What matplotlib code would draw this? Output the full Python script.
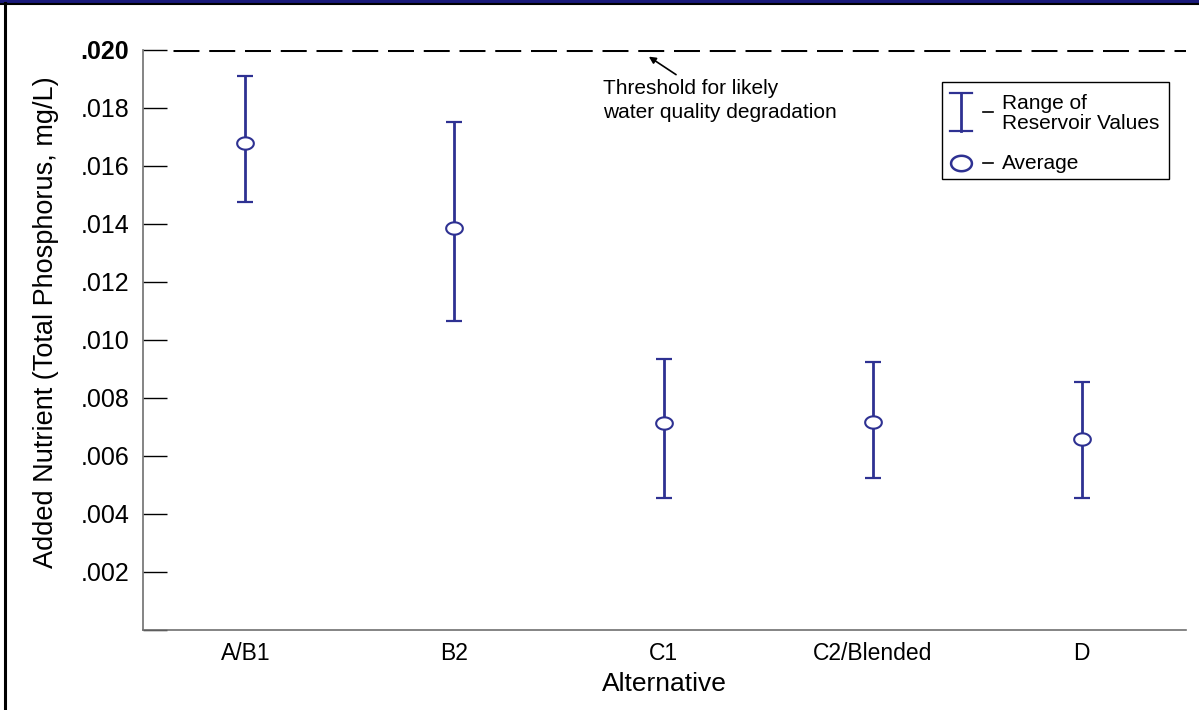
import numpy as np
import matplotlib.pyplot as plt
from matplotlib.path import Path
from matplotlib.lines import Line2D
from matplotlib.patches import Rectangle

alternatives = ['A/B1', 'B2', 'C1', 'C2/Blended', 'D']
range_high = [0.0191, 0.0175, 0.00935, 0.00924, 0.00855]
average = [0.0168, 0.01386, 0.00714, 0.00717, 0.0066]
range_low = [0.01476, 0.01066, 0.00455, 0.00524, 0.00455]
threshold = 0.020
y_ticks = [0.0, 0.002, 0.004, 0.006, 0.008, 0.010, 0.012, 0.014, 0.016, 0.018, 0.020]

navy = '#2e3192'
plt.rcParams['font.family'] = ['Liberation Sans', 'DejaVu Sans']

# slightly flattened circle marker like the original
t = np.linspace(0, 2 * np.pi, 60)
ellipse = Path(np.column_stack([np.cos(t), 0.74 * np.sin(t)]), closed=True)

fig = plt.figure(figsize=(11.99, 7.10), dpi=100)
ax = fig.add_axes([0.1193, 0.1127, 0.8699, 0.8169])

x = np.arange(len(alternatives))
avg = np.array(average)
err = [avg - np.array(range_low), np.array(range_high) - avg]
ax.errorbar(x, avg, yerr=err, fmt='none', ecolor=navy, elinewidth=2.0,
            capsize=6, capthick=1.6, zorder=2)
ax.plot(x, avg, linestyle='none', marker=ellipse, ms=12, mfc='white',
        mec=navy, mew=1.5, zorder=3)

ax.axhline(threshold, xmin=0.029, xmax=1.0, color='black', lw=2.2,
           dashes=(8.5, 3.2), zorder=1)

ax.annotate('', xy=(1.93, 0.01977), xytext=(2.06, 0.01915),
            arrowprops=dict(arrowstyle='-|>', color='black', lw=1.2,
                            mutation_scale=10, shrinkA=0, shrinkB=0))
ax.text(1.71, 0.01900, 'Threshold for likely\nwater quality degradation',
        ha='left', va='top', fontsize=15, linespacing=1.35)

ax.set_xlim(-0.49, 4.5)
ax.set_ylim(0, 0.020)
ax.set_xticks(x)
ax.set_xticklabels(alternatives, fontsize=16.5)
ax.tick_params(axis='x', length=0, pad=9)
ax.set_yticks(y_ticks)
ylabels = ['' if v == 0 else f'{v:.3f}'.lstrip('0') for v in y_ticks]
ax.set_yticklabels(ylabels, fontsize=18)
ax.get_yticklabels()[-1].set_fontweight('bold')
ax.tick_params(axis='y', direction='in', length=17, width=1.0, pad=10)

for side in ['top', 'right']:
    ax.spines[side].set_visible(False)
for side in ['left', 'bottom']:
    ax.spines[side].set_color('#707070')
    ax.spines[side].set_linewidth(1.2)

ax.set_xlabel('Alternative', fontsize=19, labelpad=5)
ax.set_ylabel('Added Nutrient (Total Phosphorus, mg/L)', fontsize=19.5)
ax.yaxis.set_label_coords(-0.081, 0.53)

# hand-drawn legend box
tr = ax.transAxes
ax.add_patch(Rectangle((0.766, 0.7776), 0.2177, 0.1672, transform=tr,
                       fill=False, ec='black', lw=1.0, clip_on=False))
lx = 0.7843
ax.add_line(Line2D([lx, lx], [0.8603, 0.9259], transform=tr, color=navy,
                   lw=2.0, clip_on=False))
for yy in (0.8603, 0.9259):
    ax.add_line(Line2D([lx - 0.0105, lx + 0.0105], [yy, yy], transform=tr,
                       color=navy, lw=1.6, clip_on=False))
ax.add_line(Line2D([lx], [0.805], transform=tr, marker=ellipse, ms=15,
                   mfc='white', mec=navy, mew=1.8, linestyle='none',
                   clip_on=False))
for yy in (0.893, 0.805):
    ax.add_line(Line2D([0.8054, 0.8150], [yy, yy], transform=tr,
                       color='black', lw=1.2, clip_on=False))
ax.text(0.8236, 0.891, 'Range of\nReservoir Values', transform=tr,
        ha='left', va='center', fontsize=15, linespacing=1.08)
ax.text(0.8236, 0.805, 'Average', transform=tr, ha='left', va='center',
        fontsize=15)

# page frame
fig.add_artist(Rectangle((0, 1 - 3 / 710), 1, 3 / 710, transform=fig.transFigure,
                         color='#1a1a7a', lw=0))
fig.add_artist(Line2D([0, 1], [1 - 4 / 710, 1 - 4 / 710], transform=fig.transFigure,
                      color='black', lw=1.5))
fig.add_artist(Line2D([5 / 1199, 5 / 1199], [0, 1 - 3 / 710], transform=fig.transFigure,
                      color='black', lw=2.2))

fig.savefig('out.png', dpi=100)
